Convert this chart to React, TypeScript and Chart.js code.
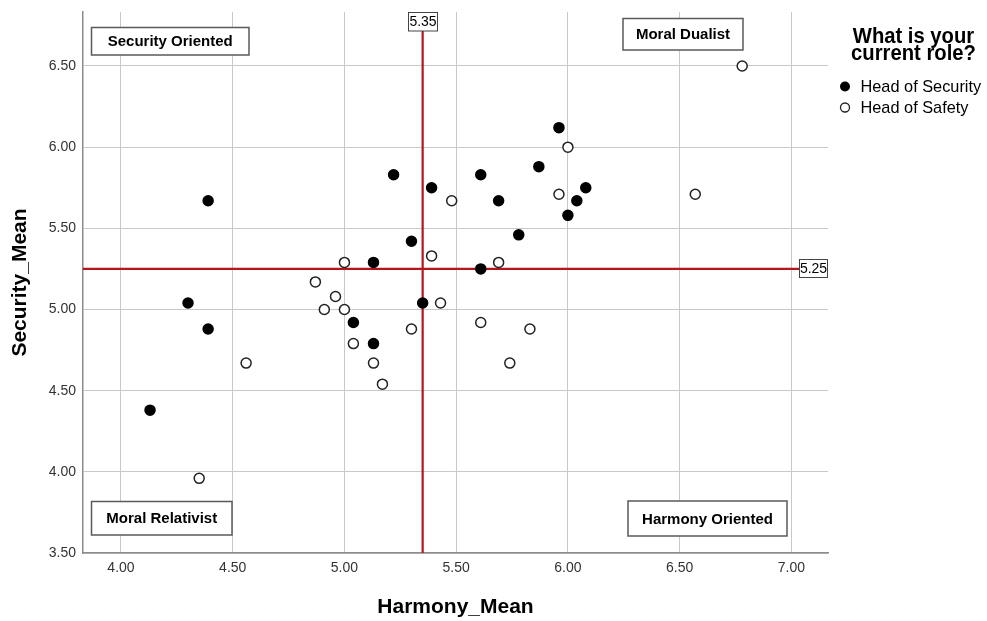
import React, { useEffect, useRef } from 'react';
import { Chart, registerables } from 'chart.js';

Chart.register(...registerables);

// ---- data ----
const securityHarmony = [4.39, 4.30, 4.39, 4.13, 5.96, 5.22, 5.39, 5.61, 5.69, 5.87, 6.08, 6.04, 6.00, 5.78, 5.30, 5.13, 5.61, 5.35, 5.04, 5.13];
const securitySecurity = [5.67, 5.04, 4.88, 4.38, 6.12, 5.83, 5.75, 5.83, 5.67, 5.88, 5.75, 5.67, 5.58, 5.46, 5.42, 5.29, 5.25, 5.04, 4.92, 4.79];
const safetyHarmony = [6.00, 5.48, 5.96, 5.39, 5.00, 5.69, 4.87, 4.96, 4.91, 5.00, 5.43, 5.30, 5.61, 5.83, 5.04, 5.13, 5.74, 5.17, 4.56, 4.35, 6.78, 6.57];
const safetySecurity = [6.00, 5.67, 5.71, 5.33, 5.29, 5.29, 5.17, 5.08, 5.00, 5.00, 5.04, 4.88, 4.92, 4.88, 4.79, 4.67, 4.67, 4.54, 4.67, 3.96, 6.50, 5.71];

const xTicks = [4.0, 4.5, 5.0, 5.5, 6.0, 6.5, 7.0];
const yTicks = [3.5, 4.0, 4.5, 5.0, 5.5, 6.0, 6.5];
const harmonyCut = 5.35;
const securityCut = 5.25;
const groupLabels = ['Head of Security', 'Head of Safety'];
const legendTitle = ['What is your', 'current role?'];
const quadrantLabels = ['Security Oriented', 'Moral Dualist', 'Moral Relativist', 'Harmony Oriented'];
const xTitle = 'Harmony_Mean';
const yTitle = 'Security_Mean';

const X_MIN = 3.83;
const X_MAX = 7.164;
const Y_MIN = 3.5;
const Y_MAX = 6.8325;

const FONT = '"Liberation Sans", Arial, Helvetica, sans-serif';

const overlay = {
  id: 'overlay',
  afterDraw(chart: any) {
    const { ctx, chartArea: a, scales } = chart;
    const xs = scales.x;
    const ys = scales.y;
    ctx.save();

    const quadBox = (l: number, t: number, r: number, b: number, text: string) => {
      ctx.fillStyle = '#ffffff';
      ctx.fillRect(l, t, r - l, b - t);
      ctx.strokeStyle = '#5a5a5a';
      ctx.lineWidth = 1.5;
      ctx.strokeRect(l, t, r - l, b - t);
      ctx.fillStyle = '#000';
      ctx.font = `bold 15px ${FONT}`;
      ctx.textAlign = 'center';
      ctx.textBaseline = 'middle';
      ctx.fillText(text, (l + r) / 2, (t + b) / 2 + 1);
    };
    quadBox(a.left + 8.5, a.top + 15.5, a.left + 166, a.top + 43, quadrantLabels[0]);
    quadBox(a.right - 205, a.top + 6.5, a.right - 85, a.top + 38, quadrantLabels[1]);
    quadBox(a.left + 8.5, a.bottom - 51.5, a.left + 149, a.bottom - 18, quadrantLabels[2]);
    quadBox(a.right - 200, a.bottom - 52, a.right - 41, a.bottom - 17, quadrantLabels[3]);

    const valBox = (l: number, t: number, r: number, b: number, text: string) => {
      ctx.fillStyle = '#ffffff';
      ctx.fillRect(l, t, r - l, b - t);
      ctx.strokeStyle = '#444';
      ctx.lineWidth = 1;
      ctx.strokeRect(l, t, r - l, b - t);
      ctx.fillStyle = '#000';
      ctx.font = `14px ${FONT}`;
      ctx.textAlign = 'center';
      ctx.textBaseline = 'middle';
      ctx.fillText(text, (l + r) / 2, (t + b) / 2 + 0.5);
    };
    const vx = xs.getPixelForValue(harmonyCut);
    valBox(Math.round(vx) - 14.5, a.top + 0.5, Math.round(vx) + 14.5, a.top + 19, harmonyCut.toFixed(2));
    const hy = ys.getPixelForValue(securityCut);
    valBox(a.right - 28.5, Math.round(hy) - 9.5, a.right - 0.5, Math.round(hy) + 8.5, securityCut.toFixed(2));

    // axis titles
    ctx.fillStyle = '#000';
    ctx.font = `bold 21px ${FONT}`;
    ctx.textAlign = 'center';
    ctx.textBaseline = 'middle';
    ctx.fillText(xTitle, (a.left + a.right) / 2, 607);
    ctx.save();
    ctx.translate(20, (a.top + a.bottom) / 2);
    ctx.rotate(-Math.PI / 2);
    ctx.fillText(yTitle, 0, 0);
    ctx.restore();

    // legend title (slightly condensed)
    ctx.save();
    ctx.translate(913.5, 0);
    ctx.scale(0.92, 1);
    ctx.font = `bold 22px ${FONT}`;
    ctx.textBaseline = 'alphabetic';
    ctx.textAlign = 'center';
    ctx.fillText(legendTitle[0], 0, 43);
    ctx.fillText(legendTitle[1], 0, 60);
    ctx.restore();

    ctx.beginPath();
    ctx.arc(845, 86.5, 5, 0, Math.PI * 2);
    ctx.fillStyle = '#000';
    ctx.fill();
    ctx.beginPath();
    ctx.arc(845, 107.5, 4.5, 0, Math.PI * 2);
    ctx.fillStyle = '#fff';
    ctx.fill();
    ctx.strokeStyle = '#222';
    ctx.lineWidth = 1.3;
    ctx.stroke();

    ctx.save();
    ctx.translate(860.5, 0);
    ctx.scale(0.96, 1);
    ctx.fillStyle = '#000';
    ctx.font = `17px ${FONT}`;
    ctx.textAlign = 'left';
    ctx.textBaseline = 'middle';
    ctx.fillText(groupLabels[0], 0, 87.5);
    ctx.fillText(groupLabels[1], 0, 108.5);
    ctx.restore();

    ctx.restore();
  },
};

export default function App() {
  const ref = useRef<HTMLCanvasElement>(null);

  useEffect(() => {
    const canvas = ref.current;
    if (!canvas) return;
    const chart = new Chart(canvas, {
      type: 'scatter',
      data: {
        datasets: [
          {
            label: groupLabels[0],
            data: securityHarmony.map((v, i) => ({ x: v, y: securitySecurity[i] })),
            backgroundColor: '#000',
            borderColor: '#000',
            borderWidth: 1.5,
            pointRadius: 5,
            order: 0,
          },
          {
            label: groupLabels[1],
            data: safetyHarmony.map((v, i) => ({ x: v, y: safetySecurity[i] })),
            backgroundColor: '#fff',
            borderColor: '#222',
            borderWidth: 1.5,
            pointRadius: 5,
            order: 0,
          },
          {
            label: 'harmonyCut',
            data: [
              { x: harmonyCut, y: Y_MIN },
              { x: harmonyCut, y: Y_MAX },
            ],
            showLine: true,
            borderColor: '#b3171d',
            borderWidth: 2.2,
            pointRadius: 0,
            order: 5,
          },
          {
            label: 'securityCut',
            data: [
              { x: X_MIN, y: securityCut },
              { x: X_MAX, y: securityCut },
            ],
            showLine: true,
            borderColor: '#b3171d',
            borderWidth: 2.2,
            pointRadius: 0,
            order: 5,
          },
        ],
      },
      options: {
        responsive: false,
        animation: false,
        devicePixelRatio: 1,
        layout: { padding: { top: 12, right: 159, left: 0, bottom: 0 } },
        plugins: {
          legend: { display: false },
          tooltip: { enabled: false },
        },
        scales: {
          x: {
            type: 'linear',
            min: X_MIN,
            max: X_MAX,
            afterBuildTicks: (s: any) => {
              s.ticks = xTicks.map((v) => ({ value: v }));
            },
            afterFit: (s: any) => {
              s.height = 68;
              s.paddingLeft = 0;
              s.paddingRight = 0;
            },
            ticks: {
              callback: (v: any) => Number(v).toFixed(2),
              font: { size: 14, family: FONT },
              color: '#333',
              padding: 7,
              autoSkip: false,
              maxRotation: 0,
            },
            grid: { color: '#c8c8c8', lineWidth: 1, drawTicks: false },
            border: { color: '#8c8c8c', width: 1.5 },
          },
          y: {
            type: 'linear',
            min: Y_MIN,
            max: Y_MAX,
            afterBuildTicks: (s: any) => {
              s.ticks = yTicks.map((v) => ({ value: v }));
            },
            afterFit: (s: any) => {
              s.width = 83;
              s.paddingTop = 0;
              s.paddingBottom = 0;
            },
            ticks: {
              callback: (v: any) => Number(v).toFixed(2),
              font: { size: 14, family: FONT },
              color: '#333',
              padding: 7,
              autoSkip: false,
            },
            grid: { color: '#c8c8c8', lineWidth: 1, drawTicks: false },
            border: { color: '#8c8c8c', width: 1.5 },
          },
        },
      },
      plugins: [overlay],
    } as any);
    return () => chart.destroy();
  }, []);

  return (
    <div style={{ position: 'fixed', left: 0, top: 0, width: 987, height: 621, background: '#fff' }}>
      <canvas ref={ref} width={987} height={621} style={{ display: 'block', width: 987, height: 621 }} />
    </div>
  );
}
